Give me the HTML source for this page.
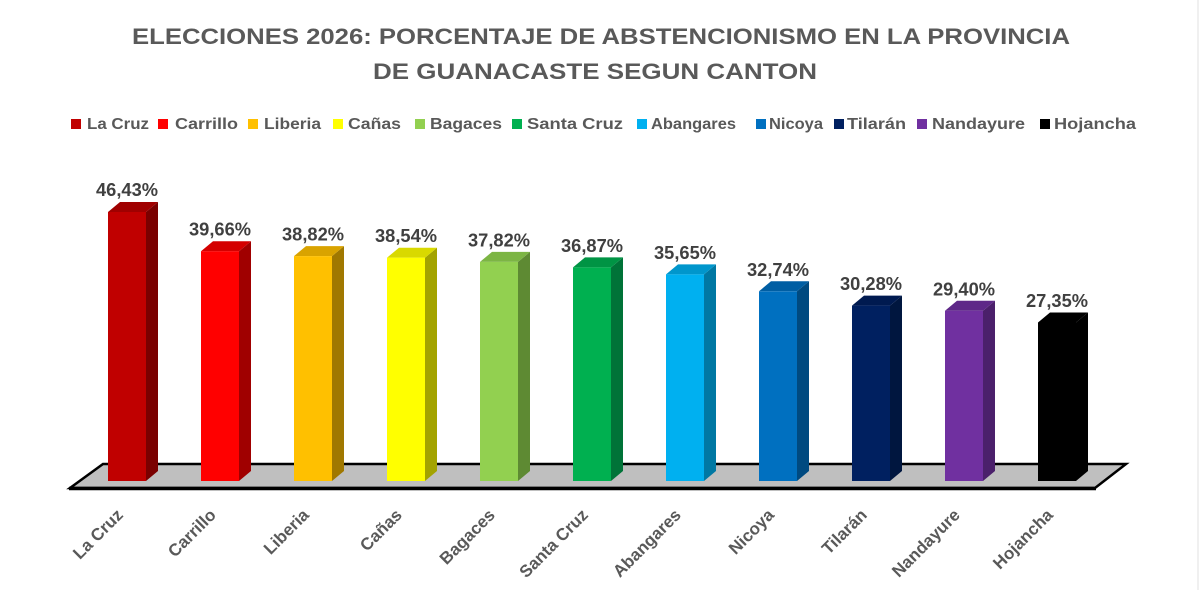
<!DOCTYPE html>
<html>
<head>
<meta charset="utf-8">
<style>
  html,body{margin:0;padding:0;background:#fff;}
  svg{display:block;}
  text{font-family:"Liberation Sans", Arial, sans-serif;font-weight:bold;}
</style>
</head>
<body>
<svg width="1200" height="590" viewBox="0 0 1200 590" xmlns="http://www.w3.org/2000/svg">
  <rect x="0" y="0" width="1200" height="590" fill="#fff"/>
  <line x1="1198" y1="0" x2="1198" y2="590" stroke="#e2e2e2" stroke-width="1"/>

  <!-- Title -->
  <text x="132" y="44" font-size="22.5" fill="#595959" textLength="938" lengthAdjust="spacingAndGlyphs">ELECCIONES 2026: PORCENTAJE DE ABSTENCIONISMO EN LA PROVINCIA</text>
  <text x="373" y="79" font-size="22.5" fill="#595959" textLength="444" lengthAdjust="spacingAndGlyphs">DE GUANACASTE SEGUN CANTON</text>

  <!-- Legend -->
  <g font-size="16" fill="#595959">
    <rect x="71" y="119" width="10" height="10" fill="#C00000"/>
    <text x="87" y="129" textLength="62" lengthAdjust="spacingAndGlyphs">La Cruz</text>
    <rect x="158" y="119" width="10" height="10" fill="#FF0000"/>
    <text x="175" y="129" textLength="63" lengthAdjust="spacingAndGlyphs">Carrillo</text>
    <rect x="248" y="119" width="10" height="10" fill="#FFC000"/>
    <text x="264" y="129" textLength="57" lengthAdjust="spacingAndGlyphs">Liberia</text>
    <rect x="333" y="119" width="10" height="10" fill="#FFFF00"/>
    <text x="348" y="129" textLength="53" lengthAdjust="spacingAndGlyphs">Cañas</text>
    <rect x="415" y="119" width="10" height="10" fill="#92D050"/>
    <text x="430" y="129" textLength="72" lengthAdjust="spacingAndGlyphs">Bagaces</text>
    <rect x="512" y="119" width="10" height="10" fill="#00B050"/>
    <text x="527" y="129" textLength="96" lengthAdjust="spacingAndGlyphs">Santa Cruz</text>
    <rect x="637" y="119" width="10" height="10" fill="#00B0F0"/>
    <text x="651" y="129" textLength="85" lengthAdjust="spacingAndGlyphs">Abangares</text>
    <rect x="756" y="119" width="10" height="10" fill="#0070C0"/>
    <text x="769" y="129" textLength="54" lengthAdjust="spacingAndGlyphs">Nicoya</text>
    <rect x="834" y="119" width="10" height="10" fill="#002060"/>
    <text x="847" y="129" textLength="59" lengthAdjust="spacingAndGlyphs">Tilarán</text>
    <rect x="917" y="119" width="10" height="10" fill="#7030A0"/>
    <text x="932" y="129" textLength="93" lengthAdjust="spacingAndGlyphs">Nandayure</text>
    <rect x="1040" y="119" width="10" height="10" fill="#000000"/>
    <text x="1054" y="129" textLength="82" lengthAdjust="spacingAndGlyphs">Hojancha</text>
  </g>

  <!-- Floor -->
  <polygon points="103,464 1126,464 1095,488 70,488" fill="#BFBFBF" stroke="#000" stroke-width="2.5" stroke-linejoin="miter"/>
  <line x1="69" y1="488.5" x2="1096" y2="488.5" stroke="#000" stroke-width="3.5"/>

  <!-- Bars: x0 = 108 + 93*i, width 38, depth (12,-10), base 481, scale 5.794 -->
  <!-- La Cruz 46.43 top=212 -->
  <g>
    <polygon points="146,481 146,212 158,202 158,471" fill="#7A0000"/>
    <polygon points="108,212 120,202 158,202 146,212" fill="#A00000"/>
    <rect x="108" y="212" width="38" height="269" fill="#C00000"/>
  </g>
  <!-- Carrillo 39.66 top=251.2 -->
  <g>
    <polygon points="239,481 239,251.2 251,241.2 251,471" fill="#A00000"/>
    <polygon points="201,251.2 213,241.2 251,241.2 239,251.2" fill="#D40000"/>
    <rect x="201" y="251.2" width="38" height="229.8" fill="#FF0000"/>
  </g>
  <!-- Liberia 38.82 top=256.1 -->
  <g>
    <polygon points="332,481 332,256.1 344,246.1 344,471" fill="#A07800"/>
    <polygon points="294,256.1 306,246.1 344,246.1 332,256.1" fill="#D9A300"/>
    <rect x="294" y="256.1" width="38" height="224.9" fill="#FFC000"/>
  </g>
  <!-- Cañas 38.54 top=257.7 -->
  <g>
    <polygon points="425,481 425,257.7 437,247.7 437,471" fill="#A3A300"/>
    <polygon points="387,257.7 399,247.7 437,247.7 425,257.7" fill="#D9D900"/>
    <rect x="387" y="257.7" width="38" height="223.3" fill="#FFFF00"/>
  </g>
  <!-- Bagaces 37.82 top=261.9 -->
  <g>
    <polygon points="518,481 518,261.9 530,251.9 530,471" fill="#5E8A33"/>
    <polygon points="480,261.9 492,251.9 530,251.9 518,261.9" fill="#7CB544"/>
    <rect x="480" y="261.9" width="38" height="219.1" fill="#92D050"/>
  </g>
  <!-- Santa Cruz 36.87 top=267.4 -->
  <g>
    <polygon points="611,481 611,267.4 623,257.4 623,471" fill="#007338"/>
    <polygon points="573,267.4 585,257.4 623,257.4 611,267.4" fill="#009444"/>
    <rect x="573" y="267.4" width="38" height="213.6" fill="#00B050"/>
  </g>
  <!-- Abangares 35.65 top=274.4 -->
  <g>
    <polygon points="704,481 704,274.4 716,264.4 716,471" fill="#0078A3"/>
    <polygon points="666,274.4 678,264.4 716,264.4 704,274.4" fill="#0096CC"/>
    <rect x="666" y="274.4" width="38" height="206.6" fill="#00B0F0"/>
  </g>
  <!-- Nicoya 32.74 top=291.3 -->
  <g>
    <polygon points="797,481 797,291.3 809,281.3 809,471" fill="#004A80"/>
    <polygon points="759,291.3 771,281.3 809,281.3 797,291.3" fill="#005EA3"/>
    <rect x="759" y="291.3" width="38" height="189.7" fill="#0070C0"/>
  </g>
  <!-- Tilarán 30.28 top=305.6 -->
  <g>
    <polygon points="890,481 890,305.6 902,295.6 902,471" fill="#00163F"/>
    <polygon points="852,305.6 864,295.6 902,295.6 890,305.6" fill="#001A50"/>
    <rect x="852" y="305.6" width="38" height="175.4" fill="#002060"/>
  </g>
  <!-- Nandayure 29.40 top=310.7 -->
  <g>
    <polygon points="983,481 983,310.7 995,300.7 995,471" fill="#4B206B"/>
    <polygon points="945,310.7 957,300.7 995,300.7 983,310.7" fill="#5E2888"/>
    <rect x="945" y="310.7" width="38" height="170.3" fill="#7030A0"/>
  </g>
  <!-- Hojancha 27.35 top=322.5 -->
  <g>
    <polygon points="1076,481 1076,322.5 1088,312.5 1088,471" fill="#000"/>
    <polygon points="1038,322.5 1050,312.5 1088,312.5 1076,322.5" fill="#000"/>
    <rect x="1038" y="322.5" width="38" height="158.5" fill="#000"/>
  </g>

  <!-- Value labels -->
  <g font-size="18" fill="#404040" text-anchor="middle">
    <text x="127" y="196" textLength="62" lengthAdjust="spacingAndGlyphs">46,43%</text>
    <text x="220" y="235.5" textLength="62" lengthAdjust="spacingAndGlyphs">39,66%</text>
    <text x="313" y="240.5" textLength="62" lengthAdjust="spacingAndGlyphs">38,82%</text>
    <text x="406" y="242" textLength="62" lengthAdjust="spacingAndGlyphs">38,54%</text>
    <text x="499" y="246.5" textLength="62" lengthAdjust="spacingAndGlyphs">37,82%</text>
    <text x="592" y="252" textLength="62" lengthAdjust="spacingAndGlyphs">36,87%</text>
    <text x="685" y="259" textLength="62" lengthAdjust="spacingAndGlyphs">35,65%</text>
    <text x="778" y="276" textLength="62" lengthAdjust="spacingAndGlyphs">32,74%</text>
    <text x="871" y="290" textLength="62" lengthAdjust="spacingAndGlyphs">30,28%</text>
    <text x="964" y="295.5" textLength="62" lengthAdjust="spacingAndGlyphs">29,40%</text>
    <text x="1057" y="307" textLength="62" lengthAdjust="spacingAndGlyphs">27,35%</text>
  </g>

  <!-- Category labels -->
  <g font-size="17" fill="#595959" text-anchor="end">
    <text transform="translate(124,516) rotate(-45)">La Cruz</text>
    <text transform="translate(217,516) rotate(-45)">Carrillo</text>
    <text transform="translate(310,516) rotate(-45)">Liberia</text>
    <text transform="translate(403,516) rotate(-45)">Cañas</text>
    <text transform="translate(496,516) rotate(-45)">Bagaces</text>
    <text transform="translate(589,516) rotate(-45)">Santa Cruz</text>
    <text transform="translate(682,516) rotate(-45)">Abangares</text>
    <text transform="translate(775,516) rotate(-45)">Nicoya</text>
    <text transform="translate(868,516) rotate(-45)">Tilarán</text>
    <text transform="translate(961,516) rotate(-45)">Nandayure</text>
    <text transform="translate(1054,516) rotate(-45)">Hojancha</text>
  </g>
</svg>
</body>
</html>
